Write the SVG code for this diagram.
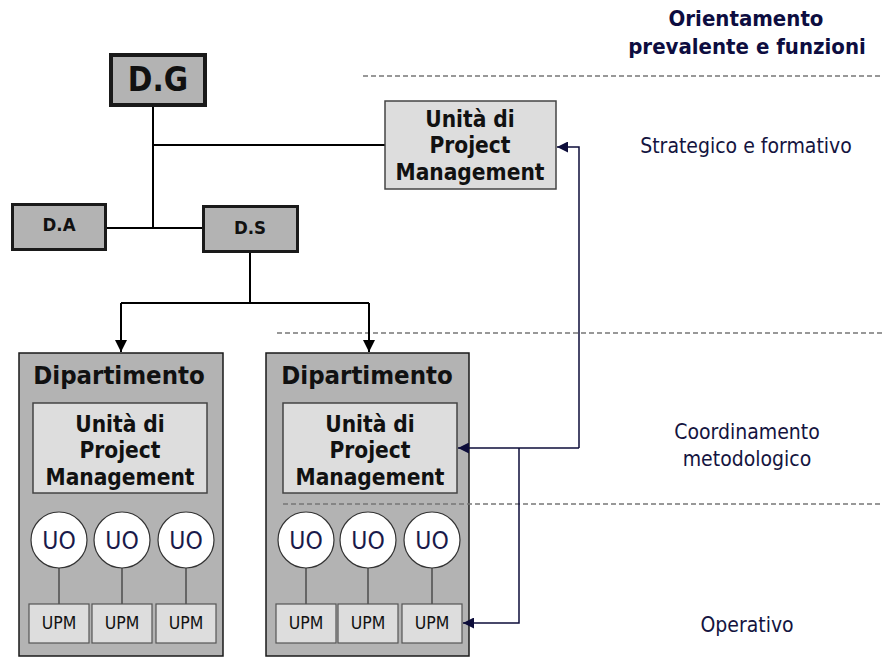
<svg xmlns="http://www.w3.org/2000/svg" width="882" height="662" viewBox="0 0 882 662">
  <defs>
    <marker id="arrowBlack" viewBox="0 0 10 10" refX="10" refY="5" markerWidth="12" markerHeight="12" markerUnits="userSpaceOnUse" orient="auto">
      <path d="M0,0 L10,5 L0,10 z" fill="#000"/>
    </marker>
    <marker id="arrowNavy" viewBox="0 0 10 10" refX="10" refY="5" markerWidth="11" markerHeight="11" markerUnits="userSpaceOnUse" orient="auto">
      <path d="M0,0 L10,5 L0,10 z" fill="#0d0d3a"/>
    </marker>
  </defs>
  <style>
    text { font-family: "DejaVu Sans Condensed", "DejaVu Sans", Verdana, sans-serif; font-stretch: condensed; text-anchor: middle; }
    .dir { fill: #b3b3b3; stroke: #1a1a1a; }
    .dirlabel { font-weight: bold; fill: #111; }
    .pmu { fill: #dddddd; stroke: #444; stroke-width: 1.5; }
    .pmulabel { font-weight: bold; font-size: 22.5px; fill: #111; }
    .dept { fill: #b3b3b3; stroke: #1a1a1a; stroke-width: 1.5; }
    .deptlabel { font-weight: bold; font-size: 25.5px; fill: #111; }
    .uo { fill: #fff; stroke: #333; stroke-width: 1.2; }
    .uolabel { font-size: 24.5px; fill: #1a1a4a; }
    .upm { fill: #dddddd; stroke: #555; stroke-width: 1.2; }
    .upmlabel { font-size: 17.5px; fill: #111; }
    .stem { stroke: #333; stroke-width: 1.2; }
    .org { fill: none; stroke: #000; stroke-width: 2; }
    .feed { fill: none; stroke: #0d0d3a; stroke-width: 1.5; }
    .level { stroke: #777; stroke-width: 1.5; stroke-dasharray: 5 3; }
    .side { font-size: 21px; fill: #141440; }
    .head { font-size: 22px; font-weight: bold; fill: #0d0d40; }
  </style>

  <!-- level separators -->
  <g id="levels">
    <line class="level" x1="363" y1="76" x2="882" y2="76"/>
    <line class="level" x1="277" y1="333" x2="882" y2="333"/>
  </g>

  <!-- org chart lines -->
  <g id="connectors">
    <path class="org" d="M153,107 V228"/>
    <path class="org" d="M153,145 H385"/>
    <path class="org" d="M107,228 H202"/>
    <path class="org" d="M250,253 V303"/>
    <path class="org" d="M121,303 H369"/>
    <path class="org" d="M121,303 V352" marker-end="url(#arrowBlack)"/>
    <path class="org" d="M369,303 V352" marker-end="url(#arrowBlack)"/>
  </g>

  <!-- top management -->
  <g id="dg">
    <rect class="dir" x="111" y="55" width="94" height="50" stroke-width="4"/>
    <text class="dirlabel" x="158" y="91" font-size="33">D.G</text>
  </g>
  <g id="da">
    <rect class="dir" x="12.5" y="204.5" width="93" height="45" stroke-width="3"/>
    <text class="dirlabel" x="59" y="231" font-size="18.5">D.A</text>
  </g>
  <g id="ds">
    <rect class="dir" x="203.5" y="206.5" width="94" height="45" stroke-width="3"/>
    <text class="dirlabel" x="250" y="234" font-size="18.5">D.S</text>
  </g>

  <!-- central project management unit -->
  <g id="pmu-central">
    <rect class="pmu" x="385" y="101" width="171" height="88" stroke-width="2"/>
    <text class="pmulabel" x="470" y="127">Unità di</text>
    <text class="pmulabel" x="470" y="153">Project</text>
    <text class="pmulabel" x="470" y="180">Management</text>
  </g>

  <!-- department 1 -->
  <g id="dept-left">
    <rect class="dept" x="19" y="353" width="204" height="303"/>
    <text class="deptlabel" x="119" y="384">Dipartimento</text>
    <rect class="pmu" x="33" y="403" width="174" height="90"/>
    <text class="pmulabel" x="120" y="432">Unità di</text>
    <text class="pmulabel" x="120" y="458">Project</text>
    <text class="pmulabel" x="120" y="485">Management</text>
    <line class="stem" x1="59" y1="568" x2="59" y2="604"/>
    <line class="stem" x1="122" y1="568" x2="122" y2="604"/>
    <line class="stem" x1="186" y1="568" x2="186" y2="604"/>
    <circle class="uo" cx="59" cy="540" r="28"/>
    <circle class="uo" cx="122" cy="540" r="28"/>
    <circle class="uo" cx="186" cy="540" r="28"/>
    <text class="uolabel" x="59" y="549">UO</text>
    <text class="uolabel" x="122" y="549">UO</text>
    <text class="uolabel" x="186" y="549">UO</text>
    <rect class="upm" x="29" y="604" width="60" height="39"/>
    <rect class="upm" x="92" y="604" width="60" height="39"/>
    <rect class="upm" x="156" y="604" width="60" height="39"/>
    <text class="upmlabel" x="59" y="629">UPM</text>
    <text class="upmlabel" x="122" y="629">UPM</text>
    <text class="upmlabel" x="186" y="629">UPM</text>
  </g>

  <!-- department 2 -->
  <g id="dept-right">
    <rect class="dept" x="266" y="353" width="203" height="303"/>
    <text class="deptlabel" x="367" y="384">Dipartimento</text>
    <rect class="pmu" x="283" y="403" width="174" height="90"/>
    <text class="pmulabel" x="370" y="432">Unità di</text>
    <text class="pmulabel" x="370" y="458">Project</text>
    <text class="pmulabel" x="370" y="485">Management</text>
    <line class="stem" x1="306" y1="568" x2="306" y2="604"/>
    <line class="stem" x1="368" y1="568" x2="368" y2="604"/>
    <line class="stem" x1="432" y1="568" x2="432" y2="604"/>
    <circle class="uo" cx="306" cy="540" r="28"/>
    <circle class="uo" cx="368" cy="540" r="28"/>
    <circle class="uo" cx="432" cy="540" r="28"/>
    <text class="uolabel" x="306" y="549">UO</text>
    <text class="uolabel" x="368" y="549">UO</text>
    <text class="uolabel" x="432" y="549">UO</text>
    <rect class="upm" x="276" y="604" width="60" height="39"/>
    <rect class="upm" x="338" y="604" width="60" height="39"/>
    <rect class="upm" x="402" y="604" width="60" height="39"/>
    <text class="upmlabel" x="306" y="629">UPM</text>
    <text class="upmlabel" x="368" y="629">UPM</text>
    <text class="upmlabel" x="432" y="629">UPM</text>
  </g>

  <!-- operational separator crosses department 2 -->
  <g id="level-operative">
    <line class="level" x1="283" y1="504" x2="882" y2="504"/>
  </g>

  <!-- methodological feedback links -->
  <g id="feedback">
    <path class="feed" d="M579,448 V147 H557" marker-end="url(#arrowNavy)"/>
    <path class="feed" d="M579,448 H458" marker-end="url(#arrowNavy)"/>
    <path class="feed" d="M519,448 V623 H463" marker-end="url(#arrowNavy)"/>
  </g>

  <!-- level captions -->
  <g id="captions">
    <text class="head" x="746" y="26">Orientamento</text>
    <text class="head" x="747" y="54">prevalente e funzioni</text>
    <text class="side" x="746" y="153">Strategico e formativo</text>
    <text class="side" x="747" y="439">Coordinamento</text>
    <text class="side" x="747" y="466">metodologico</text>
    <text class="side" x="747" y="632">Operativo</text>
  </g>
</svg>
